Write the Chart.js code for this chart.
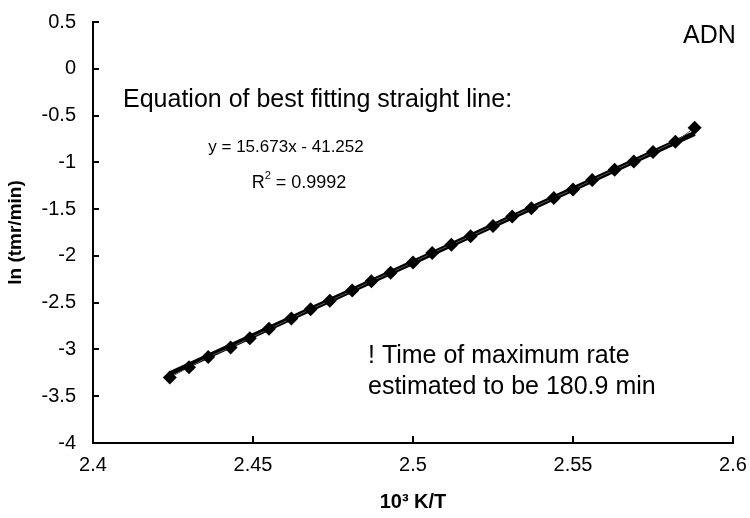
<!DOCTYPE html>
<html>
<head>
<meta charset="utf-8">
<script src="https://cdn.jsdelivr.net/npm/chart.js@4/dist/chart.umd.min.js"></script>
<style>
html,body{margin:0;padding:0;background:#fff;}
#wrap{width:750px;height:518px;position:relative;}
</style>
</head>
<body>
<div id="wrap"><canvas id="c" width="750" height="518"></canvas></div>
<script>
// ---- data ----
const invT = [2.424, 2.430, 2.436, 2.443, 2.449, 2.455, 2.462, 2.468, 2.474, 2.481, 2.487, 2.493, 2.500, 2.506,
              2.512, 2.518, 2.525, 2.531, 2.537, 2.544, 2.550, 2.556, 2.563, 2.569, 2.575, 2.582, 2.588];
const lnTmr = [-3.30, -3.19, -3.08, -2.98, -2.88, -2.78, -2.67, -2.57, -2.48, -2.37, -2.27, -2.18, -2.07, -1.97,
               -1.88, -1.79, -1.68, -1.58, -1.49, -1.38, -1.29, -1.19, -1.08, -0.99, -0.89, -0.78, -0.63];
const fitSlope = 15.673;
const fitIntercept = -41.252;
const rSquared = 0.9992;
const yTicks = [0.5, 0, -0.5, -1, -1.5, -2, -2.5, -3, -3.5, -4];
const xTicks = [2.4, 2.45, 2.5, 2.55, 2.6];
const seriesLabel = "ADN";
const xTitle = "10\u00B3 K/T";
const yTitle = "ln (tmr/min)";
const tmrNote = ["! Time of maximum rate", "estimated to be 180.9 min"];

const points = invT.map((x, i) => ({x: x, y: lnTmr[i]}));
const xFirst = invT[0], xLast = invT[invT.length - 1];
const fitLine = [
  {x: xFirst, y: fitSlope * xFirst + fitIntercept},
  {x: xLast, y: fitSlope * xLast + fitIntercept}
];

const FONT = "'Liberation Sans', Arial, Helvetica, sans-serif";

const innerTicks = {
  id: 'innerTicks',
  afterDraw(chart) {
    const ctx = chart.ctx, xs = chart.scales.x, ys = chart.scales.y;
    const a = chart.chartArea;
    ctx.save();
    ctx.strokeStyle = '#000';
    ctx.lineWidth = 2;
    ctx.beginPath();
    yTicks.forEach(v => {
      const py = Math.round(ys.getPixelForValue(v));
      ctx.moveTo(a.left, py); ctx.lineTo(a.left + 6, py);
    });
    xTicks.forEach(v => {
      const px = Math.round(xs.getPixelForValue(v));
      ctx.moveTo(px, a.bottom); ctx.lineTo(px, a.bottom - 7);
    });
    ctx.stroke();
    ctx.restore();
  }
};

const notes = {
  id: 'notes',
  afterDraw(chart) {
    const ctx = chart.ctx;
    ctx.save();
    ctx.fillStyle = '#000';
    ctx.textBaseline = 'middle';
    ctx.textAlign = 'left';
    ctx.font = '25px ' + FONT;
    ctx.fillText(seriesLabel, 683, 36);
    ctx.fillText('Equation of best fitting straight line:', 123, 100);
    ctx.fillText(tmrNote[0], 368, 356);
    ctx.fillText(tmrNote[1], 368, 387);
    ctx.font = '17px ' + FONT;
    ctx.textAlign = 'center';
    const eq = 'y = ' + fitSlope.toFixed(3) + 'x - ' + Math.abs(fitIntercept).toFixed(3);
    ctx.fillText(eq, 286, 147);
    // R^2 with superscript, centred under the equation
    const big = '18px ' + FONT, small = '11px ' + FONT;
    const rTxt = ' = ' + rSquared.toFixed(4);
    ctx.font = big;
    const wR = ctx.measureText('R').width;
    const wRest = ctx.measureText(rTxt).width;
    ctx.font = small;
    const w2 = ctx.measureText('2').width;
    const total = wR + w2 + wRest;
    const rx = 299 - total / 2;
    const ry = 183;
    ctx.textAlign = 'left';
    ctx.font = big;
    ctx.fillText('R', rx, ry);
    ctx.font = small;
    ctx.fillText('2', rx + wR, ry - 7);
    ctx.font = big;
    ctx.fillText(rTxt, rx + wR + w2, ry);
    ctx.restore();
  }
};

new Chart(document.getElementById('c'), {
  type: 'scatter',
  data: {
    datasets: [
      {
        label: 'fit',
        data: fitLine,
        showLine: true,
        borderColor: '#000',
        borderWidth: 5,
        pointRadius: 0,
        order: 2
      },
      {
        label: seriesLabel,
        data: points,
        showLine: true,
        borderColor: '#555',
        borderWidth: 1,
        backgroundColor: '#000',
        pointStyle: 'rectRot',
        pointRadius: 7,
        pointBorderColor: '#000',
        pointBackgroundColor: '#000',
        pointBorderWidth: 0,
        order: 1
      }
    ]
  },
  options: {
    responsive: false,
    animation: false,
    devicePixelRatio: 1,
    layout: {padding: {top: 22, right: 17, bottom: 0, left: 0}},
    plugins: {legend: {display: false}, tooltip: {enabled: false}},
    scales: {
      x: {
        type: 'linear',
        min: 2.4, max: 2.6,
        afterBuildTicks(scale) { scale.ticks = xTicks.map(v => ({value: v})); },
        afterFit(scale) { scale.height = 75; scale.paddingLeft = 0; scale.paddingRight = 0; },
        grid: {display: true, drawOnChartArea: false, drawTicks: false},
        border: {display: true, color: '#000', width: 2},
        ticks: {
          color: '#000', padding: 10, maxRotation: 0,
          font: {family: FONT, size: 20},
          callback: v => String(Math.round(v * 100) / 100)
        },
        title: {display: true, text: xTitle, color: '#000', padding: {top: 8, bottom: 4},
                font: {family: FONT, size: 20, weight: 'bold'}}
      },
      y: {
        type: 'linear',
        min: -4, max: 0.5,
        afterBuildTicks(scale) { scale.ticks = yTicks.map(v => ({value: v})); },
        afterFit(scale) { scale.width = 93; scale.paddingTop = 0; scale.paddingBottom = 0; },
        grid: {display: true, drawOnChartArea: false, drawTicks: false},
        border: {display: true, color: '#000', width: 2},
        ticks: {
          color: '#000', padding: 17,
          font: {family: FONT, size: 20},
          callback: v => String(Math.round(v * 10) / 10)
        },
        title: {display: true, text: yTitle, color: '#000', padding: {top: 4, bottom: 0},
                font: {family: FONT, size: 19, weight: 'bold'}}
      }
    }
  },
  plugins: [innerTicks, notes]
});
</script>
</body>
</html>
